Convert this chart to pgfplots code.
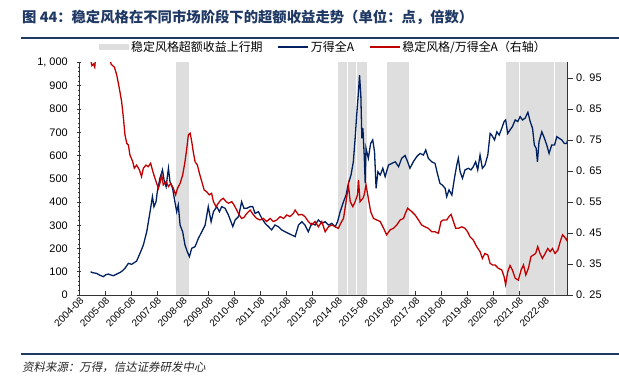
\documentclass[border=0pt]{standalone}
\usepackage{pgfplots}
\pgfplotsset{compat=1.18}
\usepackage{fontspec}
\setmainfont{Liberation Sans}
\newfontfamily\cjk{Noto Sans CJK SC}
\newfontfamily\cjkit[FakeSlant=0.2]{Noto Sans CJK SC}
\definecolor{navy}{RGB}{0,32,96}
\definecolor{darkred}{RGB}{192,0,0}
\definecolor{titleblue}{RGB}{31,56,100}
\definecolor{bandgray}{RGB}{222,222,222}
\begin{document}
\begin{tikzpicture}
\path[use as bounding box] (0bp,0bp) rectangle (619bp,377bp);
\node[anchor=base west, inner sep=0pt, text=titleblue, font=\cjk\bfseries\fontsize{14.4}{16}\selectfont] at (22bp,354bp) {图 44：稳定风格在不同市场阶段下的超额收益走势（单位：点，倍数）};
\draw[titleblue, line width=1.8bp] (21bp,339bp) -- (619bp,339bp);
\begin{axis}[
  at={(79.3bp,82bp)}, anchor=south west,
  scale only axis, width=488.4bp, height=232.5bp,
  xmin=2004.583, xmax=2023.47, ymin=0, ymax=1000,
  axis x line*=bottom, axis y line*=left,
  axis line style={black!80, line width=0.8bp},
  xtick={2004.583,2005.583,...,2022.6},
  xticklabels={2004-08,2005-08,2006-08,2007-08,2008-08,2009-08,2010-08,2011-08,2012-08,2013-08,2014-08,2015-08,2016-08,2017-08,2018-08,2019-08,2020-08,2021-08,2022-08},
  xtick align=inside,
  ytick={0,100,...,1000},
  yticklabels={0,100,200,300,400,500,600,700,800,900,{1, 000}},
  minor y tick num=4,
  ytick align=center,
  major tick length=4bp, minor tick length=2bp,
  tick style={black!80, line width=0.6bp},
  /pgf/number format/assume math mode=true,
  x tick label style={rotate=45, anchor=north east, font=\fontsize{10}{11}\selectfont, inner sep=1bp},
  y tick label style={font=\fontsize{11}{12}\selectfont, xshift=-6bp},
  legend columns=3,
  legend style={at={(0.5,1)}, anchor=center, xshift=0bp, yshift=15.5bp, draw=none, fill=none,
    font=\cjk\fontsize{12}{14}\selectfont,
    /tikz/every even column/.append style={column sep=13bp}},
  legend cell align=left,
]
\addplot[fill=bandgray, draw=none, legend image code/.code={\fill[bandgray] (0bp,-3bp) rectangle (30bp,3bp);}] coordinates {(2008.32,1000)(2008.83,1000)} \closedcycle;
\addlegendentry{稳定风格超额收益上行期}
\addplot[fill=bandgray, draw=none, forget plot] coordinates {(2014.58,1000)(2014.95,1000)} \closedcycle;
\addplot[fill=bandgray, draw=none, forget plot] coordinates {(2014.965,1000)(2015.30,1000)} \closedcycle;
\addplot[fill=bandgray, draw=none, forget plot] coordinates {(2015.315,1000)(2015.70,1000)} \closedcycle;
\addplot[fill=bandgray, draw=none, forget plot] coordinates {(2016.47,1000)(2016.90,1000)} \closedcycle;
\addplot[fill=bandgray, draw=none, forget plot] coordinates {(2016.915,1000)(2017.34,1000)} \closedcycle;
\addplot[fill=bandgray, draw=none, forget plot] coordinates {(2021.09,1000)(2021.60,1000)} \closedcycle;
\addplot[fill=bandgray, draw=none, forget plot] coordinates {(2021.62,1000)(2022.15,1000)} \closedcycle;
\addplot[fill=bandgray, draw=none, forget plot] coordinates {(2022.17,1000)(2022.95,1000)} \closedcycle;
\addplot[fill=bandgray, draw=none, forget plot] coordinates {(2022.97,1000)(2023.28,1000)} \closedcycle;
\addplot[fill=bandgray, draw=none, forget plot] coordinates {(2023.30,1000)(2023.47,1000)} \closedcycle;
\addplot[navy, line width=1.3bp, legend image code/.code={\draw[navy, line width=1.3bp] (0bp,0bp) -- (30bp,0bp);}] coordinates {
(2005.02,100)(2005.10,96)(2005.25,93)(2005.38,85)(2005.51,79)(2005.62,88)(2005.71,90)(2005.80,86)(2005.90,83)(2006.03,90)(2006.16,97)(2006.25,104)(2006.35,115)(2006.48,136)(2006.61,132)(2006.80,146)(2006.93,179)(2007.06,215)(2007.19,272)(2007.32,358)(2007.41,423)(2007.47,380)(2007.55,401)(2007.60,444)(2007.70,502)(2007.80,538)(2007.86,495)(2007.94,466)(2008.03,545)(2008.09,487)(2008.19,459)(2008.28,401)(2008.35,358)(2008.41,387)(2008.48,301)(2008.58,272)(2008.67,215)(2008.76,186)(2008.84,165)(2008.93,201)(2009.06,208)(2009.19,244)(2009.32,272)(2009.45,301)(2009.57,380)(2009.68,315)(2009.77,358)(2009.90,380)(2010.00,358)(2010.09,380)(2010.22,373)(2010.35,344)(2010.52,294)(2010.61,323)(2010.74,337)(2010.86,401)(2010.95,373)(2011.06,373)(2011.19,380)(2011.29,380)(2011.38,351)(2011.51,358)(2011.64,330)(2011.77,308)(2011.90,294)(2012.02,280)(2012.15,301)(2012.28,294)(2012.41,280)(2012.54,272)(2012.67,265)(2012.80,258)(2012.93,251)(2013.06,301)(2013.19,315)(2013.31,301)(2013.44,272)(2013.57,308)(2013.70,301)(2013.83,323)(2013.96,308)(2014.09,315)(2014.22,301)(2014.35,308)(2014.48,294)(2014.57,315)(2014.67,358)(2014.80,401)(2014.90,430)(2014.99,480)(2015.09,516)(2015.18,573)(2015.25,674)(2015.31,774)(2015.38,875)(2015.42,946)(2015.47,860)(2015.51,674)(2015.55,717)(2015.60,602)(2015.64,480)(2015.67,631)(2015.76,588)(2015.85,652)(2015.93,667)(2016.00,616)(2016.06,459)(2016.13,530)(2016.22,516)(2016.32,545)(2016.41,509)(2016.54,559)(2016.67,566)(2016.80,573)(2016.93,552)(2017.05,588)(2017.18,600)(2017.28,573)(2017.37,545)(2017.50,573)(2017.63,595)(2017.76,609)(2017.89,602)(2017.98,624)(2018.08,588)(2018.21,573)(2018.34,566)(2018.43,523)(2018.53,480)(2018.62,473)(2018.73,459)(2018.79,423)(2018.88,452)(2018.99,430)(2019.09,502)(2019.18,559)(2019.24,588)(2019.31,530)(2019.40,502)(2019.50,538)(2019.63,545)(2019.73,538)(2019.82,552)(2019.91,573)(2019.99,538)(2020.08,602)(2020.17,545)(2020.27,559)(2020.38,602)(2020.47,695)(2020.53,688)(2020.64,667)(2020.73,702)(2020.82,688)(2020.92,717)(2021.01,746)(2021.07,753)(2021.15,695)(2021.24,710)(2021.33,724)(2021.44,753)(2021.54,746)(2021.63,767)(2021.72,753)(2021.82,760)(2021.93,786)(2022.02,746)(2022.11,717)(2022.18,645)(2022.25,631)(2022.30,573)(2022.36,659)(2022.47,702)(2022.57,674)(2022.66,645)(2022.75,609)(2022.85,645)(2022.96,645)(2023.05,681)(2023.14,674)(2023.24,667)(2023.34,652)(2023.43,652)(2023.47,667)
};
\addlegendentry{万得全A}
\addlegendimage{legend image code/.code={\draw[darkred, line width=1.3bp] (0bp,0bp) -- (30bp,0bp);}}
\addlegendentry{稳定风格/万得全A（右轴）}
\end{axis}
\begin{axis}[
  at={(79.3bp,82bp)}, anchor=south west,
  scale only axis, width=488.4bp, height=232.5bp,
  xmin=2004.583, xmax=2023.47, ymin=0.25, ymax=1.0,
  axis x line=none, axis y line*=right,
  axis line style={black!80, line width=0.8bp},
  ytick={0.25,0.35,0.45,0.55,0.65,0.75,0.85,0.95},
  yticklabels={0. 25,0. 35,0. 45,0. 55,0. 65,0. 75,0. 85,0. 95},
  ytick align=outside, major tick length=5bp,
  tick style={black!80, line width=0.6bp},
  /pgf/number format/assume math mode=true,
  y tick label style={font=\fontsize{11}{12}\selectfont},
]
\addplot[darkred, line width=1.3bp] coordinates {
(2005.02,1.01)(2005.07,0.99)(2005.13,0.995)(2005.18,0.985)(2005.23,1.03)(2005.38,1.06)(2005.58,1.08)(2005.74,1.04)(2005.81,0.995)(2005.87,0.99)(2005.94,0.985)(2006.03,0.96)(2006.13,0.917)(2006.22,0.874)(2006.29,0.82)(2006.35,0.766)(2006.42,0.739)(2006.48,0.734)(2006.54,0.702)(2006.65,0.68)(2006.71,0.659)(2006.80,0.669)(2006.91,0.653)(2006.99,0.632)(2007.06,0.659)(2007.16,0.669)(2007.25,0.664)(2007.34,0.675)(2007.45,0.642)(2007.55,0.616)(2007.64,0.594)(2007.70,0.61)(2007.77,0.637)(2007.83,0.605)(2007.94,0.616)(2008.03,0.60)(2008.12,0.61)(2008.22,0.594)(2008.31,0.573)(2008.38,0.594)(2008.48,0.61)(2008.58,0.637)(2008.67,0.68)(2008.74,0.723)(2008.80,0.766)(2008.87,0.772)(2008.93,0.745)(2008.99,0.712)(2009.06,0.68)(2009.15,0.669)(2009.23,0.642)(2009.32,0.616)(2009.41,0.589)(2009.51,0.583)(2009.61,0.573)(2009.70,0.578)(2009.77,0.551)(2009.87,0.535)(2009.96,0.546)(2010.05,0.556)(2010.15,0.562)(2010.26,0.551)(2010.35,0.546)(2010.48,0.551)(2010.57,0.54)(2010.67,0.524)(2010.77,0.508)(2010.86,0.497)(2010.95,0.50)(2011.06,0.513)(2011.19,0.524)(2011.32,0.508)(2011.44,0.497)(2011.57,0.492)(2011.70,0.497)(2011.83,0.487)(2011.96,0.497)(2012.09,0.487)(2012.22,0.492)(2012.35,0.503)(2012.48,0.497)(2012.61,0.508)(2012.73,0.503)(2012.86,0.513)(2012.93,0.524)(2013.06,0.508)(2013.19,0.51)(2013.31,0.503)(2013.44,0.487)(2013.57,0.476)(2013.70,0.487)(2013.83,0.47)(2013.96,0.487)(2014.09,0.454)(2014.22,0.47)(2014.35,0.476)(2014.48,0.47)(2014.60,0.465)(2014.69,0.481)(2014.80,0.497)(2014.90,0.551)(2014.99,0.605)(2015.06,0.551)(2015.16,0.535)(2015.25,0.551)(2015.34,0.573)(2015.38,0.621)(2015.44,0.551)(2015.55,0.562)(2015.60,0.573)(2015.67,0.605)(2015.76,0.562)(2015.85,0.519)(2015.96,0.497)(2016.09,0.492)(2016.22,0.487)(2016.35,0.465)(2016.47,0.444)(2016.60,0.46)(2016.73,0.465)(2016.86,0.476)(2016.99,0.492)(2017.12,0.497)(2017.20,0.515)(2017.28,0.53)(2017.44,0.519)(2017.57,0.508)(2017.70,0.492)(2017.82,0.476)(2017.95,0.47)(2018.08,0.465)(2018.21,0.454)(2018.34,0.454)(2018.47,0.449)(2018.57,0.487)(2018.66,0.492)(2018.79,0.492)(2018.88,0.503)(2018.96,0.51)(2019.05,0.487)(2019.14,0.465)(2019.24,0.465)(2019.37,0.47)(2019.50,0.465)(2019.60,0.454)(2019.69,0.438)(2019.82,0.427)(2019.95,0.406)(2020.08,0.39)(2020.17,0.368)(2020.27,0.384)(2020.38,0.379)(2020.47,0.352)(2020.56,0.347)(2020.66,0.347)(2020.79,0.336)(2020.92,0.331)(2021.01,0.309)(2021.07,0.284)(2021.15,0.325)(2021.24,0.345)(2021.33,0.331)(2021.44,0.304)(2021.56,0.298)(2021.67,0.331)(2021.76,0.347)(2021.85,0.315)(2021.95,0.336)(2022.05,0.374)(2022.14,0.379)(2022.23,0.384)(2022.31,0.406)(2022.40,0.384)(2022.49,0.368)(2022.60,0.384)(2022.70,0.40)(2022.79,0.39)(2022.88,0.40)(2022.98,0.384)(2023.09,0.395)(2023.18,0.422)(2023.27,0.444)(2023.34,0.438)(2023.43,0.427)(2023.47,0.438)
};
\end{axis}
\draw[titleblue, line width=1.2bp] (21bp,23bp) -- (619bp,23bp);
\node[anchor=base west, inner sep=0pt, font=\cjkit\fontsize{11.5}{13}\selectfont, text=black!85] at (22bp,6bp) {资料来源：万得，信达证券研发中心};
\end{tikzpicture}
\end{document}
